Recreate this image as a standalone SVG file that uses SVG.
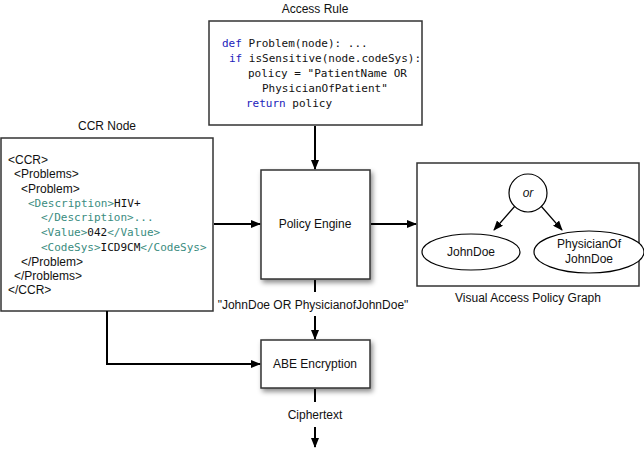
<svg xmlns="http://www.w3.org/2000/svg" width="644" height="454" viewBox="0 0 644 454">
<defs>
<style>
.lbl{font-family:"Liberation Sans",Arial,sans-serif;font-size:12px;fill:#111}
.mono{font-family:"DejaVu Sans Mono","Liberation Mono",monospace;font-size:11px;fill:#111}
.kw{fill:#2222bb}
.tag{fill:#3a8c80}
.box{fill:#fff;stroke:#333;stroke-width:1.5}
.conn{fill:none;stroke:#000;stroke-width:2}
.thin{fill:none;stroke:#000;stroke-width:1.2}
</style>
<marker id="ah" markerWidth="10" markerHeight="8" refX="9" refY="4" orient="auto" markerUnits="userSpaceOnUse">
<path d="M0,0 L10,4 L0,8 z" fill="#000"/>
</marker>
<marker id="ahs" markerWidth="10" markerHeight="8" refX="9" refY="4" orient="auto" markerUnits="userSpaceOnUse">
<path d="M0,0 L10,4 L0,8 z" fill="#000"/>
</marker>
<filter id="sh" x="-20%" y="-20%" width="150%" height="150%">
<feDropShadow dx="2" dy="3" stdDeviation="2.5" flood-color="#000" flood-opacity="0.45"/>
</filter>
</defs>

<g id="access-rule">
<text class="lbl" x="315" y="13" text-anchor="middle">Access Rule</text>
<rect class="box" x="209" y="21" width="213" height="104"/>
<text class="mono" x="222" y="47"><tspan class="kw">def</tspan> Problem(node): ...</text>
<text class="mono" x="229" y="62"><tspan class="kw">if</tspan> isSensitive(node.codeSys):</text>
<text class="mono" x="248" y="77">policy = "PatientName OR</text>
<text class="mono" x="262" y="92">PhysicianOfPatient"</text>
<text class="mono" x="246" y="107"><tspan class="kw">return</tspan> policy</text>
</g>

<g id="ccr-node">
<text class="lbl" x="107" y="130" text-anchor="middle">CCR Node</text>
<rect class="box" x="1" y="138" width="212" height="173"/>
<text class="lbl" x="8" y="164">&lt;CCR&gt;</text>
<text class="lbl" x="14" y="178">&lt;Problems&gt;</text>
<text class="lbl" x="21" y="193">&lt;Problem&gt;</text>
<text class="mono" x="28" y="207"><tspan class="tag">&lt;Description&gt;</tspan>HIV+</text>
<text class="mono" x="41" y="221"><tspan class="tag">&lt;/Description&gt;...</tspan></text>
<text class="mono" x="41" y="236"><tspan class="tag">&lt;Value&gt;</tspan>042<tspan class="tag">&lt;/Value&gt;</tspan></text>
<text class="mono" x="41" y="251"><tspan class="tag">&lt;CodeSys&gt;</tspan>ICD9CM<tspan class="tag">&lt;/CodeSys&gt;</tspan></text>
<text class="lbl" x="21" y="266">&lt;/Problem&gt;</text>
<text class="lbl" x="14" y="280">&lt;/Problems&gt;</text>
<text class="lbl" x="8" y="294">&lt;/CCR&gt;</text>
</g>

<g id="policy-engine">
<rect class="box" x="261" y="170" width="109" height="109" filter="url(#sh)"/>
<text class="lbl" x="315" y="228" text-anchor="middle">Policy Engine</text>
</g>

<g id="visual-graph">
<rect class="box" x="417" y="163" width="222" height="123"/>
<text class="lbl" x="528" y="302" text-anchor="middle">Visual Access Policy Graph</text>
</g>

<g id="or-node">
<circle cx="528" cy="193" r="19" fill="#fff" stroke="#000" stroke-width="1.2"/>
<text class="lbl" x="528" y="197" text-anchor="middle" font-style="italic">or</text>
</g>

<g id="johndoe">
<ellipse cx="471" cy="252" rx="49" ry="18" fill="#fff" stroke="#000" stroke-width="1.2"/>
<text class="lbl" x="471" y="256" text-anchor="middle">JohnDoe</text>
</g>

<g id="physician">
<ellipse cx="589" cy="252" rx="55" ry="21" fill="#fff" stroke="#000" stroke-width="1.2"/>
<text class="lbl" x="589" y="248" text-anchor="middle">PhysicianOf</text>
<text class="lbl" x="589" y="263" text-anchor="middle">JohnDoe</text>
</g>

<g id="abe-encryption">
<rect class="box" x="261" y="340" width="109" height="48" filter="url(#sh)"/>
<text class="lbl" x="315" y="368" text-anchor="middle">ABE Encryption</text>
</g>

<g id="connectors">
<line class="conn" x1="315" y1="126" x2="315" y2="169" marker-end="url(#ah)"/>
<line class="conn" x1="214" y1="224" x2="260" y2="224" marker-end="url(#ah)"/>
<line class="conn" x1="371" y1="224" x2="416" y2="224" marker-end="url(#ah)"/>
<line class="conn" x1="315" y1="280" x2="315" y2="292"/>
<line class="conn" x1="315" y1="316" x2="315" y2="339" marker-end="url(#ah)"/>
<polyline class="conn" points="107,311 107,364 260,364" marker-end="url(#ah)"/>
<line class="conn" x1="315" y1="389" x2="315" y2="402"/>
<line class="conn" x1="315" y1="427" x2="315" y2="447" marker-end="url(#ah)"/>
<line class="thin" x1="515" y1="206" x2="494" y2="230" marker-end="url(#ahs)"/>
<line class="thin" x1="541" y1="206" x2="562" y2="230" marker-end="url(#ahs)"/>
<text class="lbl" x="313" y="309" text-anchor="middle">"JohnDoe OR PhysicianofJohnDoe"</text>
<text class="lbl" x="315" y="419" text-anchor="middle">Ciphertext</text>
</g>
</svg>
